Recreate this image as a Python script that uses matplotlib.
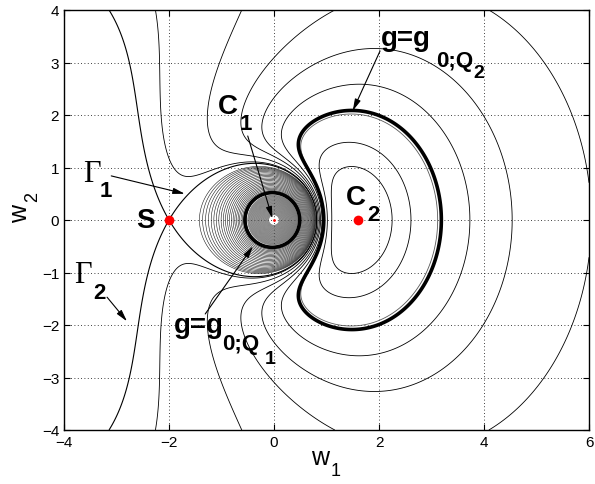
import numpy as np
import matplotlib
matplotlib.use('Agg')
import matplotlib.pyplot as plt

plt.rcParams['font.family'] = ['Liberation Sans', 'DejaVu Sans']
plt.rcParams['contour.negative_linestyle'] = 'solid'
plt.rcParams['path.simplify'] = False

# ---- model field (log g) fitted to the reference contour geometry ----
C2_X = 1.6                      # zero of the quadratic factor (point C2)
ANISO = 0.5                     # y-weight of the quadratic factor
POLE_COEF = [-50.33726, 31.81610, -8.23743, -0.25675, -4.26947]  # 1/r, 1/r^2, ln r, x/r, x/r^2

# ---- marked points ----
S_pt = (-2.0, 0.0)
C1_pt = (0.0, 0.0)
C2_pt = (1.6, 0.0)

# ---- contour levels ----
crescent_levels = [-25.7840, -24.3952, -21.9399, -21.0498, -20.2572, -19.2549, -18.2958]
g0_Q2_level = -22.8819
g0_Q1_level = 27.3327
companion_offset = -0.15
outer_ring_start, outer_ring_ratio, outer_ring_count = 1.42, 0.958, 24
inner_ring_outer, inner_ring_inner, inner_ring_count = 0.50, 0.10, 34

x_ticks = [-4, -2, 0, 2, 4, 6]
y_ticks = [-4, -3, -2, -1, 0, 1, 2, 3, 4]


def field(x, y):
    r = np.hypot(x, y)
    q = np.log((x - C2_X) ** 2 + ANISO * y ** 2)
    basis = [1 / r, 1 / r ** 2, np.log(r), x / r, x / r ** 2]
    return q + sum(c * b for c, b in zip(POLE_COEF, basis))


fig = plt.figure(figsize=(5.95, 4.85), dpi=100)
ax = fig.add_axes([64 / 595, 1 - 431 / 485, 525 / 595, 420 / 485])

xx, yy = np.meshgrid(np.linspace(-4, 6, 800), np.linspace(-4, 4, 640))
with np.errstate(all='ignore'):
    Z = field(xx, yy)

saddle_level = field(np.array([S_pt[0]]), np.array([S_pt[1]]))[0]

ax.contour(xx, yy, Z, levels=sorted(crescent_levels), colors='k', linewidths=0.6)
ax.contour(xx, yy, Z, levels=[g0_Q2_level + companion_offset], colors='0.35', linewidths=0.6)
ax.contour(xx, yy, Z, levels=[saddle_level], colors='k', linewidths=0.8)

# dense rings around the singular point C1 (polar grid, log-compressed values)
rho = np.geomspace(0.05, 1.75, 900)
phi = np.linspace(0, 2 * np.pi, 1441)
RR, PP = np.meshgrid(rho, phi)
PX, PY = RR * np.cos(PP), RR * np.sin(PP)
with np.errstate(all='ignore'):
    TP = np.log(field(PX, PY) - saddle_level)
edge_max = np.nanmax(field(np.full(200, -4.0), np.linspace(-4, 4, 200)))

outer_r = outer_ring_start * outer_ring_ratio ** np.arange(outer_ring_count)
outer_lev = np.sort(field(-outer_r, 0 * outer_r))
outer_lev = outer_lev[outer_lev > max(edge_max, saddle_level) + 0.05]
ax.contour(PX, PY, TP, levels=np.log(outer_lev - saddle_level), colors='0.1', linewidths=0.4)

inner_r = np.linspace(inner_ring_outer, inner_ring_inner, inner_ring_count)
inner_t = np.sort(np.log(field(-inner_r, 0 * inner_r) - saddle_level))
for chunk in np.array_split(inner_t, 6):
    ax.contour(PX, PY, TP, levels=chunk, colors='0.3', linewidths=0.35)

ax.contour(PX, PY, TP, levels=[np.log(g0_Q1_level - saddle_level)], colors='k', linewidths=2.6)
# highlighted crescent level g = g_{0;Q2}
ax.contour(xx, yy, Z, levels=[g0_Q2_level], colors='k', linewidths=2.6)

ax.plot([S_pt[0], C2_pt[0]], [S_pt[1], C2_pt[1]], 'o', color='#ff0000', ms=7, mec='none', zorder=6)
ax.plot([C1_pt[0]], [C1_pt[1]], 'o', color='#ff0000', ms=2, mec='none', zorder=6)

ax.set_xlim(-4, 6)
ax.set_ylim(-4, 4)
ax.set_xticks(x_ticks)
ax.set_yticks(y_ticks)
ax.grid(True, linestyle=(0, (1, 3)), color='k', linewidth=0.6)
ax.tick_params(direction='in', top=True, right=True, labelsize=11, length=4)
for s in ax.spines.values():
    s.set_linewidth(1.0)

bold = dict(fontweight='bold', color='k')
arrow = dict(arrowstyle='-|>,head_length=0.7,head_width=0.18', color='k', lw=0.8,
             shrinkA=0, shrinkB=0)

# S
ax.text(-2.45, 0.0, 'S', fontsize=20, ha='center', va='center', **bold)
# C1
ax.text(-0.88, 2.17, 'C', fontsize=20, ha='center', va='center', **bold)
ax.text(-0.53, 1.84, '1', fontsize=16, ha='center', va='center', **bold)
ax.annotate('', xy=(-0.03, 0.03), xytext=(-0.5, 1.6), arrowprops=arrow)
# C2
ax.text(1.56, 0.44, 'C', fontsize=20, ha='center', va='center', **bold)
ax.text(1.89, 0.11, '2', fontsize=16, ha='center', va='center', **bold)
# g = g_{0;Q2}
ax.text(2.04, 3.33, 'g=g', fontsize=20, ha='left', va='baseline', **bold)
ax.text(3.08, 2.93, '0;Q', fontsize=16, ha='left', va='baseline', **bold)
ax.text(3.80, 2.72, '2', fontsize=14, ha='left', va='baseline', **bold)
ax.annotate('', xy=(1.5, 2.08), xytext=(2.02, 3.22), arrowprops=arrow)
# g = g_{0;Q1}
ax.text(-1.90, -2.13, 'g=g', fontsize=20, ha='left', va='baseline', **bold)
ax.text(-0.98, -2.45, '0;Q', fontsize=16, ha='left', va='baseline', **bold)
ax.text(-0.18, -2.72, '1', fontsize=14, ha='left', va='baseline', **bold)
ax.annotate('', xy=(-0.4, -0.5), xytext=(-1.31, -1.79), arrowprops=arrow)
# Gamma 1
ax.text(-3.64, 0.88, 'Γ', fontsize=22, family='Liberation Serif', ha='left', va='center')
ax.text(-3.2, 0.57, '1', fontsize=16, ha='center', va='center', **bold)
ax.annotate('', xy=(-1.7, 0.5), xytext=(-3.1, 0.84), arrowprops=arrow)
# Gamma 2
ax.text(-3.8, -1.03, 'Γ', fontsize=22, family='Liberation Serif', ha='left', va='center')
ax.text(-3.33, -1.38, '2', fontsize=16, ha='center', va='center', **bold)
ax.annotate('', xy=(-2.8, -1.93), xytext=(-3.18, -1.47), arrowprops=arrow)

# axis labels
fig.text(320 / 595, 1 - 458 / 485, 'w', fontsize=18, ha='center', va='center')
fig.text(336 / 595, 1 - 472 / 485, '1', fontsize=13, ha='center', va='center')
fig.text(20 / 595, 1 - 214 / 485, 'w', fontsize=18, ha='center', va='center', rotation=90)
fig.text(33 / 595, 1 - 197 / 485, '2', fontsize=13, ha='center', va='center', rotation=90)

fig.savefig('out.png', dpi=100)
